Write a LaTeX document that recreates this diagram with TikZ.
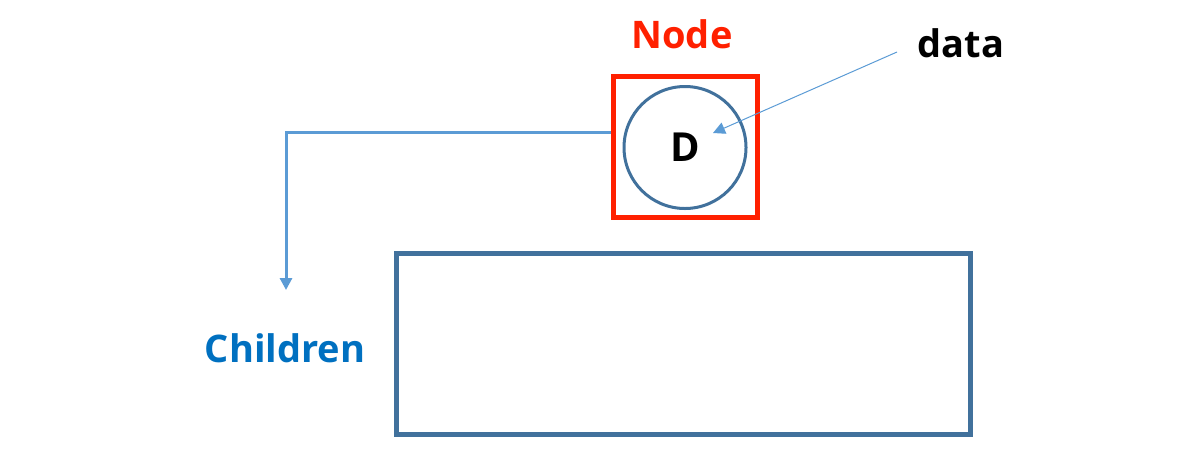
\documentclass[tikz,border=0pt]{standalone}
\usepackage{fontspec}
\setmainfont{Open Sans}
\usetikzlibrary{arrows.meta}
\definecolor{frame}{HTML}{41719C}
\definecolor{wire}{HTML}{5B9BD5}
\definecolor{nodered}{HTML}{FF2000}
\definecolor{kidblue}{HTML}{0070C0}
\begin{document}
\begin{tikzpicture}[x=0.5pt,y=-0.5pt,
	label/.style={font=\bfseries\fontsize{19}{23}\selectfont, inner sep=0pt},
	wirearrow/.style={draw=wire, -{Triangle[length=6pt,width=6pt]}}]
	\useasboundingbox (0,0) rectangle (1203,456);
	\node [draw=nodered, line width=2.5pt, minimum width=72pt, minimum height=70.5pt] (box) at (685,146.5) {};
	\node [circle, draw=frame, line width=1.5pt, minimum size=61pt, label, font=\bfseries\fontsize{20}{24}\selectfont] (d) at (685,147.5) {D};
	\node [label, text=nodered] (title) at (682,34) {Node};
	\node [label] (data) at (961,43) {data};
	\node [label, text=kidblue] (kids) at (285,348) {Children};
	\node [draw=frame, line width=2.5pt, minimum width=287pt, minimum height=90.5pt] (children) at (683.75,344) {};
	\coordinate (datatail) at (897,52);
	\coordinate (datahead) at (713,133);
	\coordinate (kidtip) at (286,290);
	\draw [wirearrow, line width=0.5pt] (datatail) -- (datahead);
	\draw [wirearrow, line width=1.5pt] (box.west |- 0,132) -| (kidtip);
\end{tikzpicture}
\end{document}
